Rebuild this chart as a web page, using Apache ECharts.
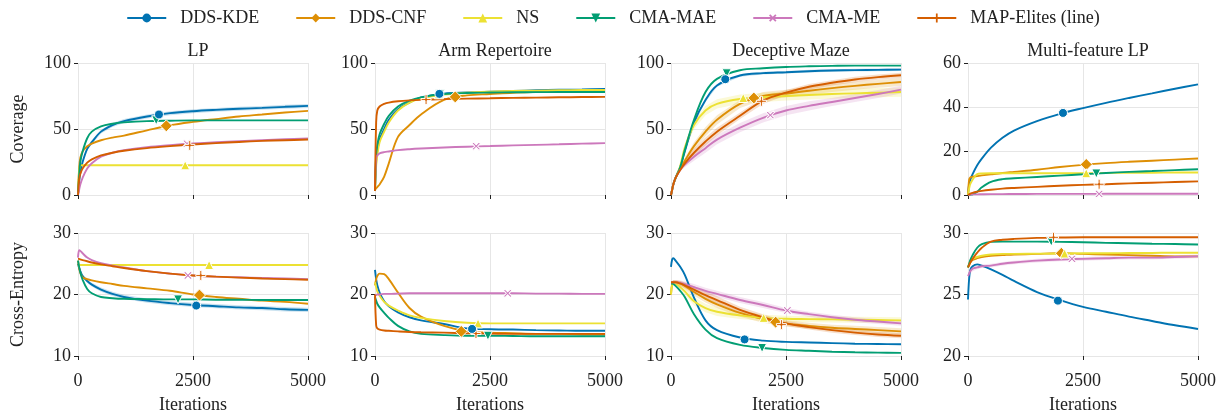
<!DOCTYPE html>
<html>
<head>
<meta charset="utf-8">
<script src="https://cdn.jsdelivr.net/npm/echarts@6/dist/echarts.min.js"></script>
<style>
  html, body { margin: 0; padding: 0; background: #fff; }
  #container { width: 1226px; height: 415px; }
</style>
</head>
<body>
<div id="container"></div>
<script>
// iterations shared by every curve
var iters = [0, 25, 50, 100, 200, 300, 500, 750, 1000, 1500, 2000, 2500, 3000, 3500, 4000, 4500, 5000];

var methods = ['DDS-KDE', 'DDS-CNF', 'NS', 'CMA-MAE', 'CMA-ME', 'MAP-Elites (line)'];
var keys = ['kde', 'cnf', 'ns', 'mae', 'me', 'map'];
var colors = ['#0173b2', '#de8f05', '#ece133', '#029e73', '#cc78bc', '#d55e00'];
var plus = 'path://M4,0H6V4H10V6H6V10H4V6H0V4H4Z';
var symbols = ['circle', 'diamond', 'triangle', 'triangle', plus, plus];
var rotations = [0, 0, 0, 180, 45, 0];
var markSizes = [9, 12, 9, 9, 10, 10];

var titles = ['LP', 'Arm Repertoire', 'Deceptive Maze', 'Multi-feature LP'];

// ---- Coverage (top row) ----
var lpCov = {
  kde: [0, 10, 17, 25, 35, 40, 48, 53, 56, 59.5, 62, 63.5, 64.5, 65.3, 66, 66.8, 67.5],
  cnf: [0, 20, 28, 33, 37, 39, 41.5, 43.5, 45, 49, 52.8, 55.4, 57.5, 59.5, 61, 62.5, 63.7],
  ns:  [0, 18, 22.4, 22.5, 22.5, 22.5, 22.5, 22.5, 22.5, 22.5, 22.5, 22.5, 22.5, 22.5, 22.5, 22.5, 22.5],
  mae: [0, 15, 25, 33, 43, 48, 52, 54, 55, 56, 56.3, 56.5, 56.5, 56.5, 56.5, 56.5, 56.5],
  me:  [0, 4, 8, 13, 20, 24, 29, 32, 34, 36.3, 37.8, 39, 40, 40.8, 41.5, 42.2, 42.8],
  map: [0, 12, 16, 20, 24.5, 27, 30, 32, 33.5, 35.5, 37, 38.3, 39.3, 40.2, 41, 41.5, 42]
};
var lpCovMark = { kde: [1760, 61], cnf: [1920, 52.4], ns: [2330, 22.5], mae: [1700, 56.6], me: [2370, 38.8], map: [2430, 37.6] };
var lpCovBand = { kde: [0, 1, 1.5, 1.5, 1.5, 1.5, 1.5, 1.5, 1.5, 1.5, 1.5, 1.5, 1.5, 1.5, 1.5, 1.5, 1.5] };

var armCov = {
  kde: [3, 25, 33, 42, 50, 57, 65, 70, 74, 76.8, 77.6, 78.2, 78.8, 79.3, 79.7, 80, 80.3],
  cnf: [4, 5, 6, 8, 14, 24, 44, 53, 61, 72, 75.5, 76.5, 77.5, 78, 78.3, 78.6, 78.8],
  ns:  [3, 22, 30, 40, 48, 55, 64, 70, 73, 76, 77.5, 78.3, 78.8, 79.1, 79.3, 79.5, 79.6],
  mae: [3, 30, 38, 46, 54, 60, 67, 71.5, 74, 76.5, 77.3, 77.6, 77.8, 77.9, 78, 78, 78],
  me:  [5, 28, 30, 31.5, 32.5, 33, 34, 34.7, 35.2, 36, 36.6, 37.1, 37.6, 38, 38.4, 38.9, 39.3],
  map: [3, 55, 64, 67, 69, 70, 71, 71.7, 72.1, 72.6, 73, 73.3, 73.6, 73.8, 74, 74.2, 74.3]
};
var armCovMark = { kde: [1400, 76.6], cnf: [1745, 74.3], ns: [1390, 76.3], mae: [1410, 76.6], me: [2200, 37], map: [1110, 72.3] };
var armCovBand = {};

var mazeCov = {
  kde: [0, 4, 8, 13, 21, 33, 55, 72, 83, 90.5, 92.3, 93, 93.8, 94.3, 94.6, 94.8, 95],
  cnf: [0, 4, 8, 13, 20, 26, 37, 48, 57, 69, 75, 76.8, 79, 81, 82.7, 84.2, 85.6],
  ns:  [0, 4, 8, 13, 22, 36, 53, 64, 69, 72.7, 74, 75, 75.8, 76.5, 77, 77.5, 78],
  mae: [0, 4, 8, 13, 21, 34, 57, 78, 88, 94.5, 96, 97, 97.5, 97.8, 98, 98, 98],
  me:  [0, 4, 8, 13, 19, 23, 29, 35.5, 42, 51, 58.5, 64, 67.5, 70.5, 73.5, 76.5, 79.8],
  map: [0, 4, 8, 13, 19, 24, 32, 40.5, 48, 60, 71.5, 77.5, 82, 85, 87.5, 89.3, 90.7]
};
var mazeCovMark = { kde: [1180, 87.7], cnf: [1800, 73.5], ns: [1570, 73.5], mae: [1210, 92.2], me: [2160, 60.5], map: [1965, 71] };
var mazeCovBand = {
  kde: [0, 0, 0.5, 0.5, 1, 1.5, 1.5, 1.5, 1, 1, 1, 1, 1, 1, 1, 1, 1],
  cnf: [0, 0, 0.5, 0.5, 1, 2, 3, 3.5, 3.5, 3, 3, 3, 3, 3, 3, 3, 3],
  ns:  [0, 0, 0.5, 0.5, 1, 2, 3, 3.5, 3.5, 3.5, 3.5, 3.5, 3.5, 3.5, 3.5, 3.5, 3.5],
  me:  [0, 0, 0.5, 0.5, 1, 2, 3, 3.5, 3.5, 3.5, 3.5, 3.5, 3.5, 3, 3, 3, 3],
  map: [0, 0, 0.5, 0.5, 1, 2, 3, 3, 3, 2.5, 2.5, 2, 2, 2, 2, 2, 2]
};

var mfCov = {
  kde: [0, 5, 7, 9.5, 13.5, 16.5, 21.5, 26, 29.3, 33.6, 36.9, 39.5, 41.9, 44.1, 46.2, 48.3, 50.3],
  cnf: [0, 7, 8, 8.3, 8.6, 8.9, 9.4, 10, 10.5, 11.5, 12.7, 13.7, 14.5, 15.1, 15.6, 16.1, 16.6],
  ns:  [0, 3, 5, 7, 9.5, 9.8, 9.9, 9.9, 9.9, 9.9, 9.9, 9.9, 10, 10.1, 10.1, 10.2, 10.2],
  mae: [0, 0, 0.1, 0.3, 1.5, 3.5, 6, 7.2, 7.6, 8.2, 8.8, 9.4, 10, 10.5, 10.9, 11.3, 11.7],
  me:  [0, 0.1, 0.2, 0.3, 0.3, 0.35, 0.4, 0.4, 0.45, 0.5, 0.5, 0.5, 0.55, 0.55, 0.6, 0.6, 0.6],
  map: [0, 0.3, 0.6, 1, 1.5, 1.9, 2.4, 2.9, 3.2, 3.7, 4.2, 4.6, 4.9, 5.3, 5.6, 5.9, 6.2]
};
var mfCovMark = { kde: [2065, 37.3], cnf: [2570, 13.9], ns: [2570, 9.9], mae: [2790, 9.8], me: [2850, 0.5], map: [2850, 4.9] };
var mfCovBand = {};

// ---- Cross-Entropy (bottom row) ----
var lpCe = {
  kde: [25, 24.3, 23.8, 23, 22.2, 21.6, 20.8, 20.1, 19.6, 19, 18.6, 18.3, 18.1, 17.9, 17.8, 17.6, 17.5],
  cnf: [25.5, 24.3, 23.5, 22.8, 22.5, 22.3, 22, 21.7, 21.4, 21, 20.6, 20, 19.6, 19.3, 19, 18.8, 18.5],
  ns:  [24.6, 24.7, 24.8, 24.8, 24.8, 24.8, 24.8, 24.8, 24.8, 24.8, 24.8, 24.8, 24.8, 24.8, 24.8, 24.8, 24.8],
  mae: [25.5, 24.5, 23.6, 22.4, 20.9, 20.2, 19.6, 19.4, 19.3, 19.25, 19.2, 19.2, 19.15, 19.15, 19.1, 19.1, 19.1],
  me:  [26, 27.2, 27.1, 26.7, 26, 25.6, 25.1, 24.7, 24.4, 23.8, 23.4, 23.1, 22.9, 22.8, 22.7, 22.6, 22.5],
  map: [25.8, 25.8, 25.7, 25.6, 25.4, 25.2, 24.9, 24.6, 24.3, 23.8, 23.4, 23.1, 22.9, 22.75, 22.6, 22.5, 22.4]
};
var lpCeMark = { kde: [2570, 18.2], cnf: [2640, 19.9], ns: [2850, 24.8], mae: [2175, 19.2], me: [2390, 23.1], map: [2670, 23.1] };
var lpCeBand = { kde: [0, 0.2, 0.3, 0.3, 0.3, 0.3, 0.35, 0.35, 0.35, 0.35, 0.35, 0.35, 0.35, 0.35, 0.35, 0.35, 0.35] };

var armCe = {
  kde: [24, 22.5, 21.5, 20.3, 18.9, 18.1, 17.1, 16.3, 15.8, 15.2, 14.5, 14.35, 14.3, 14.2, 14.15, 14.1, 14.1],
  cnf: [21.5, 22.5, 23, 23.4, 23.3, 22.5, 20.3, 17.8, 16.4, 14.9, 14, 13.8, 13.7, 13.6, 13.6, 13.5, 13.5],
  ns:  [22, 21.2, 20.5, 19.8, 18.8, 18.2, 17.4, 16.6, 16.2, 15.7, 15.4, 15.3, 15.3, 15.3, 15.3, 15.3, 15.3],
  mae: [19.6, 19, 18.5, 17.9, 17, 16.2, 14.9, 14, 13.6, 13.4, 13.3, 13.3, 13.25, 13.2, 13.2, 13.2, 13.2],
  me:  [19.8, 19.9, 20, 20, 20.1, 20.1, 20.15, 20.2, 20.2, 20.2, 20.2, 20.2, 20.2, 20.15, 20.15, 20.1, 20.1],
  map: [20, 15, 14.5, 14.3, 14.15, 14.1, 14, 13.9, 13.85, 13.8, 13.7, 13.65, 13.6, 13.6, 13.6, 13.6, 13.6]
};
var armCeMark = { kde: [2110, 14.4], cnf: [1875, 14], ns: [2240, 15.3], mae: [2455, 13.3], me: [2885, 20.2], map: [2195, 13.65] };
var armCeBand = {};

var mazeCe = {
  kde: [24.5, 25.7, 25.9, 25.5, 24.5, 23.2, 19.5, 15.8, 14.2, 13, 12.5, 12.3, 12.2, 12.1, 12, 11.95, 11.9],
  cnf: [20, 21.7, 22, 22, 21.8, 21.4, 20.4, 19.3, 18.4, 17, 16, 15.3, 14.9, 14.6, 14.4, 14.2, 14],
  ns:  [20, 21.6, 22, 21.8, 21.2, 20.5, 18.9, 17.8, 17.2, 16.6, 16.2, 16.05, 16, 15.95, 15.9, 15.85, 15.8],
  mae: [21.8, 21.8, 21.7, 21.4, 20.6, 19.6, 16.8, 14.3, 12.9, 11.8, 11.3, 11, 10.85, 10.7, 10.6, 10.55, 10.5],
  me:  [22, 22, 22, 22, 21.9, 21.7, 21.2, 20.6, 20.1, 19.1, 18.3, 17.4, 16.8, 16.3, 15.9, 15.6, 15.3],
  map: [22, 22, 22, 22, 21.8, 21.5, 20.8, 19.9, 19.1, 17.5, 16.3, 15.3, 14.7, 14.2, 13.8, 13.5, 13.3]
};
var mazeCeMark = { kde: [1600, 12.7], cnf: [2275, 15.5], ns: [2015, 16.2], mae: [1980, 11.3], me: [2530, 17.4], map: [2400, 15.1] };
var mazeCeBand = {
  cnf: [0, 0.2, 0.3, 0.3, 0.4, 0.5, 0.6, 0.6, 0.6, 0.6, 0.6, 0.5, 0.5, 0.5, 0.5, 0.5, 0.5],
  ns:  [0, 0.2, 0.3, 0.3, 0.4, 0.5, 0.7, 0.7, 0.7, 0.6, 0.5, 0.5, 0.5, 0.5, 0.5, 0.5, 0.5],
  me:  [0, 0.2, 0.3, 0.3, 0.4, 0.4, 0.5, 0.5, 0.5, 0.5, 0.5, 0.4, 0.4, 0.4, 0.4, 0.4, 0.4],
  map: [0, 0.2, 0.3, 0.3, 0.4, 0.5, 0.6, 0.6, 0.6, 0.5, 0.5, 0.4, 0.4, 0.4, 0.4, 0.4, 0.4]
};

var mfCe = {
  kde: [24.6, 26.3, 27, 27.3, 27.45, 27.35, 27.05, 26.6, 26.1, 25.2, 24.55, 24, 23.6, 23.2, 22.85, 22.5, 22.2],
  cnf: [27.2, 27.4, 27.6, 27.8, 27.95, 28.05, 28.15, 28.2, 28.25, 28.3, 28.35, 28.3, 28.25, 28.2, 28.15, 28.1, 28.1],
  ns:  [27.2, 27.5, 27.7, 27.9, 28.05, 28.15, 28.25, 28.3, 28.3, 28.32, 28.33, 28.35, 28.35, 28.37, 28.38, 28.4, 28.4],
  mae: [27.2, 27.5, 27.8, 28.2, 28.8, 29.1, 29.28, 29.3, 29.3, 29.3, 29.28, 29.25, 29.2, 29.17, 29.13, 29.1, 29.07],
  me:  [26.5, 26.7, 26.9, 27.1, 27.2, 27.3, 27.35, 27.5, 27.6, 27.75, 27.85, 27.9, 27.95, 28, 28, 28.05, 28.1],
  map: [27.2, 27.4, 27.6, 27.9, 28.4, 28.8, 29.3, 29.45, 29.52, 29.6, 29.63, 29.65, 29.65, 29.65, 29.65, 29.65, 29.65]
};
var mfCeMark = { kde: [1955, 24.5], cnf: [2030, 28.35], ns: [2100, 28.33], mae: [1810, 29.3], me: [2260, 27.9], map: [1860, 29.65] };
var mfCeBand = { me: [0.2, 0.2, 0.2, 0.2, 0.15, 0.15, 0.15, 0.15, 0.15, 0.15, 0.15, 0.15, 0.15, 0.15, 0.15, 0.15, 0.15] };

var yTicks = [[0, 100, 50], [0, 100, 50], [0, 100, 50], [0, 60, 20],
              [10, 30, 10], [10, 30, 10], [10, 30, 10], [20, 30, 5]];

var panels = [
  [lpCov, lpCovMark, lpCovBand], [armCov, armCovMark, armCovBand],
  [mazeCov, mazeCovMark, mazeCovBand], [mfCov, mfCovMark, mfCovBand],
  [lpCe, lpCeMark, lpCeBand], [armCe, armCeMark, armCeBand],
  [mazeCe, mazeCeMark, mazeCeBand], [mfCe, mfCeMark, mfCeBand]
];

var font = "'Liberation Serif', 'DejaVu Serif', serif";
var lefts = [78, 375, 671, 968];
var tops = [63, 233];
var gw = 230, gh = 132;

var dom = document.getElementById('container');
var myChart = echarts.init(dom);

function pairs(ys) {
  return iters.map(function (x, j) { return [x, ys[j]]; });
}

// shaded band: one polygon through upper edge then back along lower edge
function bandItem(ys, sp, color) {
  return function (params, api) {
    if (params.dataIndex !== 0) return null;
    var pts = [];
    for (var j = 0; j < iters.length; j++) pts.push(api.coord([iters[j], ys[j] + sp[j]]));
    for (var j2 = iters.length - 1; j2 >= 0; j2--) pts.push(api.coord([iters[j2], ys[j2] - sp[j2]]));
    return {
      type: 'polygon', shape: { points: pts, smooth: 0 },
      style: { fill: color, opacity: 0.2 }
    };
  };
}

var grids = [], xAxes = [], yAxes = [], series = [], titleList = [];
panels.forEach(function (p, i) {
  var col = i % 4, row = Math.floor(i / 4);
  grids.push({ left: lefts[col], top: tops[row], width: gw, height: gh });
  if (row === 0) {
    titleList.push({
      text: titles[col], left: lefts[col] + gw / 2, top: 37, textAlign: 'center',
      textStyle: { fontFamily: font, fontSize: 18, fontWeight: 'normal', color: '#222' }
    });
  }
  xAxes.push({
    gridIndex: i, type: 'value', min: 0, max: 5000, interval: 2500,
    name: row === 1 ? 'Iterations' : '', nameLocation: 'middle', nameGap: 40,
    nameTextStyle: { fontFamily: font, fontSize: 18, color: '#222' },
    axisLine: { show: false },
    axisTick: { show: true, length: 4, lineStyle: { color: '#222', width: 1 } },
    axisLabel: {
      show: row === 1, fontFamily: font, fontSize: 18, color: '#222', margin: 16,
      formatter: function (v) { return String(v); }
    },
    splitLine: { show: true, lineStyle: { color: '#e6e6e6', width: 1 } }
  });
  var yt = yTicks[i];
  yAxes.push({
    gridIndex: i, type: 'value', min: yt[0], max: yt[1], interval: yt[2],
    name: col === 0 ? (row === 0 ? 'Coverage' : 'Cross-Entropy') : '',
    nameLocation: 'middle', nameGap: 51,
    nameTextStyle: { fontFamily: font, fontSize: 18, color: '#222' },
    axisLine: { show: false },
    axisTick: { show: true, length: 4, lineStyle: { color: '#222', width: 1 } },
    axisLabel: { fontFamily: font, fontSize: 18, color: '#222', margin: 7 },
    splitLine: { show: true, lineStyle: { color: '#e6e6e6', width: 1 } }
  });

  var data = p[0], marks = p[1], bands = p[2];
  keys.forEach(function (k, m) {
    var ys = data[k];
    if (bands[k]) {
      series.push({
        type: 'custom', xAxisIndex: i, yAxisIndex: i, silent: true, clip: true,
        data: pairs(ys), renderItem: bandItem(ys, bands[k], colors[m]), z: 1
      });
    }
    series.push({
      name: methods[m], type: 'line', xAxisIndex: i, yAxisIndex: i,
      data: pairs(ys), smooth: 0.35,
      symbol: symbols[m], symbolRotate: rotations[m], showSymbol: false,
      lineStyle: { color: colors[m], width: 1.9 }, itemStyle: { color: colors[m] },
      z: 2 + m
    });
    series.push({
      name: 'mark-' + k, type: 'scatter', xAxisIndex: i, yAxisIndex: i,
      data: [marks[k]], symbol: symbols[m], symbolRotate: rotations[m],
      symbolSize: markSizes[m],
      itemStyle: { color: colors[m], borderColor: '#fff', borderWidth: 1, opacity: 1 },
      z: k === 'kde' ? 12 : 10
    });
  });
});

var option = {
  animation: false,
  backgroundColor: '#fff',
  title: titleList,
  legend: {
    data: methods, top: 4, left: 'center',
    itemWidth: 39, itemHeight: 11, itemGap: 36,
    textStyle: { fontFamily: font, fontSize: 18, color: '#222', padding: [0, 0, 0, 9] }
  },
  grid: grids,
  xAxis: xAxes,
  yAxis: yAxes,
  series: series
};
myChart.setOption(option);
</script>
</body>
</html>
